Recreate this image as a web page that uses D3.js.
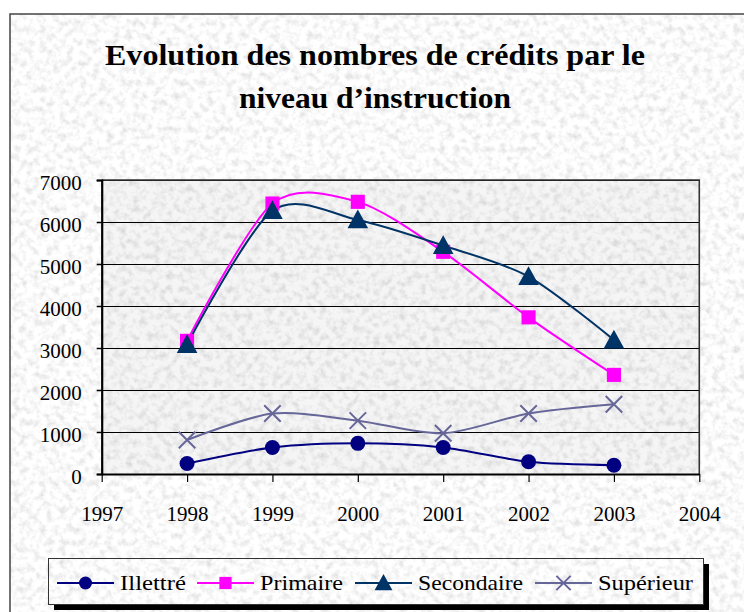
<!DOCTYPE html>
<html>
<head>
<meta charset="utf-8">
<script src="https://d3js.org/d3.v7.min.js"></script>
<style>
  body { margin: 0; background: #fff; }
  text { font-family: "Liberation Serif", "Times New Roman", serif; fill: #000; }
</style>
</head>
<body>
<svg id="chart" width="744" height="612"></svg>
<script>
var years = [1998, 1999, 2000, 2001, 2002, 2003];
var illettre = [250, 630, 730, 630, 290, 210];
var primaire = [3170, 6440, 6480, 5290, 3730, 2360];
var secondaire = [3080, 6270, 6050, 5440, 4700, 3190];
var superieur = [810, 1440, 1270, 970, 1440, 1660];
var seriesNames = ["Illettré", "Primaire", "Secondaire", "Supérieur"];
var xTicks = [1997, 1998, 1999, 2000, 2001, 2002, 2003, 2004];
var yTicks = [0, 1000, 2000, 3000, 4000, 5000, 6000, 7000];
var titleLines = ["Evolution des nombres de crédits par le", "niveau d\u2019instruction"];

var series = [
  {name: seriesNames[0], values: illettre, color: "#000080", marker: "circle"},
  {name: seriesNames[1], values: primaire, color: "#ff00ff", marker: "square"},
  {name: seriesNames[2], values: secondaire, color: "#003366", marker: "triangle"},
  {name: seriesNames[3], values: superieur, color: "#666699", marker: "cross"}
];

var svg = d3.select("#chart");
var defs = svg.append("defs");

// paper texture (fills the bbox of whatever uses it)
var f = defs.append("filter").attr("id", "paper")
  .attr("x", 0).attr("y", 0).attr("width", 1).attr("height", 1);
f.append("feTurbulence").attr("type", "fractalNoise")
  .attr("baseFrequency", "0.15").attr("numOctaves", 3).attr("seed", 7);
f.append("feColorMatrix").attr("type", "matrix")
  .attr("values", "0.55 0 0 0 0.68  0.55 0 0 0 0.68  0.55 0 0 0 0.68  0 0 0 0 1");

// outer frame
svg.append("rect")
  .attr("x", 10).attr("y", 14).attr("width", 760).attr("height", 620)
  .attr("fill", "#fff")
  .attr("filter", "url(#paper)");
svg.append("rect")
  .attr("x", 10).attr("y", 14).attr("width", 760).attr("height", 620)
  .attr("fill", "none").attr("stroke", "#444").attr("stroke-width", 1.5);

// title
var titleW = [540, 272];
svg.selectAll(".title")
  .data(titleLines)
  .enter().append("text")
    .attr("class", "title")
    .attr("x", 375)
    .attr("y", function(d, i) { return 65 + i * 43; })
    .attr("text-anchor", "middle")
    .attr("font-size", 29)
    .attr("font-weight", "bold")
    .attr("textLength", function(d, i) { return titleW[i]; })
    .attr("lengthAdjust", "spacingAndGlyphs")
    .text(function(d) { return d; });

var pLeft = 101.7, pRight = 699.3, pTop = 180, pBottom = 474;

var x = d3.scaleLinear().domain([1997, 2004]).range([pLeft, pRight]);
var y = d3.scaleLinear().domain([0, 7000]).range([pBottom, pTop]);

// plot area, a bit greyer
svg.append("rect")
  .attr("x", pLeft).attr("y", pTop)
  .attr("width", pRight - pLeft).attr("height", pBottom - pTop)
  .attr("fill", "#808080").attr("fill-opacity", 0.08);

// gridlines
svg.append("g")
  .attr("transform", "translate(" + pLeft + ",0)")
  .call(d3.axisLeft(y).tickValues(yTicks.slice(1)).tickSize(-(pRight - pLeft)).tickFormat(""))
  .call(function(g) { g.select(".domain").remove(); })
  .selectAll("line").attr("stroke", "#000").attr("stroke-width", 1);

// top and right border
svg.append("path")
  .attr("d", "M" + pLeft + "," + pTop + "H" + pRight + "V" + pBottom)
  .attr("fill", "none").attr("stroke", "#333").attr("stroke-width", 1.6);

// y axis
var yAxis = svg.append("g")
  .attr("transform", "translate(" + pLeft + ",0)")
  .call(d3.axisLeft(y).tickValues(yTicks).tickSize(5).tickPadding(15).tickFormat(d3.format("d")));
yAxis.attr("font-family", null);
yAxis.select(".domain").attr("stroke", "#000").attr("stroke-width", 2.2);
yAxis.selectAll("line").attr("stroke", "#000").attr("stroke-width", 1.5);
yAxis.selectAll("text")
  .attr("font-size", 21)
  .attr("dy", "0.45em");

// x axis
var xAxis = svg.append("g")
  .attr("transform", "translate(0," + pBottom + ")")
  .call(d3.axisBottom(x).tickValues(xTicks).tickSize(8).tickSizeOuter(0).tickPadding(24).tickFormat(d3.format("d")));
xAxis.attr("font-family", null);
xAxis.select(".domain").attr("stroke", "#000").attr("stroke-width", 2.2);
xAxis.selectAll("line").attr("stroke", "#000").attr("stroke-width", 1.2);
xAxis.selectAll("text")
  .attr("font-size", 21);

// lines
var line = d3.line()
  .x(function(d, i) { return x(years[i]); })
  .y(function(d) { return y(d); })
  .curve(d3.curveCardinal.tension(0.15));

function drawMarker(g, type, color, size) {
  if (type === "circle") {
    g.append("circle").attr("r", size * 0.5).attr("fill", color);
  } else if (type === "square") {
    g.append("rect").attr("x", -size * 0.47).attr("y", -size * 0.47)
      .attr("width", size * 0.94).attr("height", size * 0.94).attr("fill", color);
  } else if (type === "triangle") {
    var h = size * 1.25;
    g.append("path")
      .attr("d", "M0," + (-h * 0.55) + "L" + (h * 0.55) + "," + (h * 0.45) + "L" + (-h * 0.55) + "," + (h * 0.45) + "Z")
      .attr("fill", color);
  } else {
    var s = size * 0.55;
    g.append("path")
      .attr("d", "M" + (-s) + "," + (-s) + "L" + s + "," + s + "M" + (-s) + "," + s + "L" + s + "," + (-s))
      .attr("stroke", color).attr("stroke-width", 2).attr("fill", "none");
  }
}

series.forEach(function(s) {
  svg.append("path")
    .datum(s.values)
    .attr("d", line)
    .attr("fill", "none")
    .attr("stroke", s.color)
    .attr("stroke-width", 2);
});

series.forEach(function(s) {
  svg.selectAll(null)
    .data(s.values)
    .enter().append("g")
      .attr("transform", function(d, i) { return "translate(" + x(years[i]) + "," + y(d) + ")"; })
      .each(function() { drawMarker(d3.select(this), s.marker, s.color, 15); });
});

// legend
var legend = svg.append("g");
legend.append("rect")
  .attr("x", 54).attr("y", 564).attr("width", 655).attr("height", 46)
  .attr("fill", "#000");
legend.append("rect")
  .attr("x", 48.5).attr("y", 558.5).attr("width", 655).attr("height", 46)
  .attr("fill", "#f2f2f2")
  .attr("filter", "url(#paper)");
legend.append("rect")
  .attr("x", 48.5).attr("y", 558.5).attr("width", 655).attr("height", 46)
  .attr("fill", "none").attr("stroke", "#333").attr("stroke-width", 1);

var legendX = [57, 197, 355, 535];
var legendW = [66, 83, 105, 95];
series.forEach(function(s, i) {
  var g = legend.append("g").attr("transform", "translate(" + legendX[i] + ",583)");
  g.append("line").attr("x1", 0).attr("x2", 57).attr("y1", 0).attr("y2", 0)
    .attr("stroke", s.color).attr("stroke-width", 2);
  var m = g.append("g").attr("transform", "translate(28.5,0)");
  drawMarker(m, s.marker, s.color, 13);
  g.append("text").attr("x", 63).attr("y", 7)
    .attr("font-size", 22)
    .attr("textLength", legendW[i])
    .attr("lengthAdjust", "spacingAndGlyphs")
    .text(s.name);
});
</script>
</body>
</html>
